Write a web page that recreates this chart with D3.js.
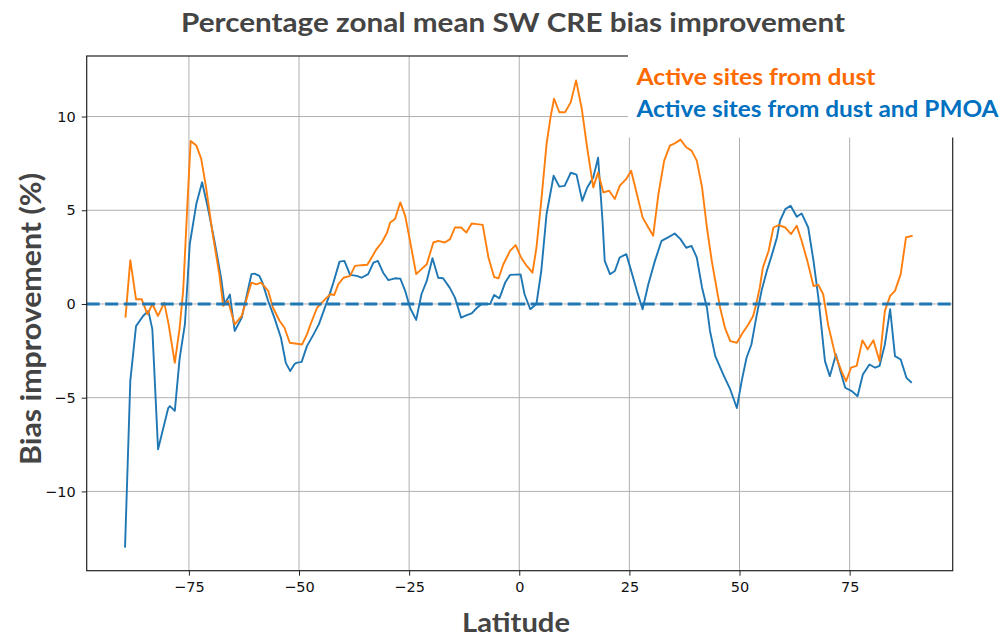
<!DOCTYPE html>
<html lang="en">
<head>
<meta charset="UTF-8">
<title>Percentage zonal mean SW CRE bias improvement</title>
<script src="https://d3js.org/d3.v7.min.js"></script>
<style>
  body { margin: 0; background: #fff; }
  svg { display: block; }
</style>
</head>
<body>
<svg id="chart" width="1004" height="640"></svg>
<script>
// latitude / value pairs
const dustLat = [-89.4,-88.3,-87.0,-85.7,-84.4,-83.3,-82.0,-80.6,-79.6,-78.2,-77.1,-76.3,-75.3,-74.6,-73.3,-72.2,-71.1,-69.6,-68.1,-67.2,-66.1,-64.6,-63.0,-61.5,-60.8,-59.7,-58.6,-57.0,-55.9,-54.4,-53.3,-52.1,-49.3,-48.2,-47.1,-45.9,-44.8,-43.7,-42.9,-42.0,-41.1,-39.9,-38.4,-37.3,-35.8,-34.5,-33.5,-32.4,-31.2,-30.0,-29.3,-28.2,-27.0,-25.9,-24.8,-23.4,-22.2,-21.0,-19.5,-18.4,-16.9,-15.7,-14.6,-13.2,-12.0,-10.8,-9.6,-8.3,-7.0,-5.7,-4.7,-3.6,-2.1,-0.8,0.4,1.7,3.0,3.9,5.0,6.2,7.1,7.9,9.1,10.4,11.7,12.9,14.2,15.4,16.8,17.9,19.1,20.4,21.7,22.8,24.3,25.4,26.7,28.0,29.3,30.4,31.6,32.9,34.2,35.3,36.6,37.9,39.1,40.3,41.5,42.6,43.7,44.9,45.6,46.7,47.9,49.4,50.7,52.0,53.1,53.8,54.6,55.3,56.6,57.7,58.9,60.4,61.7,63.0,64.1,65.4,66.8,67.9,69.0,70.1,71.7,73.3,74.2,75.3,76.6,77.9,79.1,80.4,81.8,83.0,84.2,85.3,86.6,87.8,89.3];
const dustVal = [-0.73,2.34,0.25,0.25,-0.55,0,-0.64,0.07,-1.09,-3.14,-1.27,0.7,5.5,8.7,8.45,7.74,6.22,3.73,1.59,-0.1,0.16,-1.09,-0.64,0.6,1.14,1.05,1.14,0.7,-0.2,-0.91,-1.27,-2.07,-2.16,-1.62,-0.91,-0.2,0.07,0.34,0.52,0.48,1.05,1.4,1.5,2.03,2.07,2.09,2.48,2.93,3.28,3.81,4.35,4.53,5.42,4.7,3.37,1.59,1.86,2.12,3.28,3.37,3.28,3.46,4.08,4.08,3.81,4.29,4.26,4.22,2.48,1.44,1.37,2.12,2.83,3.14,2.48,2.03,1.67,3.0,5.5,8.54,9.96,10.95,10.23,10.23,10.77,11.93,10.41,8.36,6.22,7.02,5.95,6.04,5.6,6.3,6.67,7.11,5.87,4.62,4.08,3.64,5.87,7.65,8.45,8.57,8.77,8.36,8.18,7.65,6.22,4.08,2.3,0.7,-0.2,-1.27,-1.98,-2.07,-1.55,-1.09,-0.64,0,0.87,1.94,2.83,4.08,4.21,4.08,3.73,4.17,3.37,2.3,0.96,1.02,0.52,-1.09,-2.69,-3.67,-4.12,-3.4,-3.3,-1.94,-2.42,-1.94,-3.05,-0.37,0.43,0.7,1.59,3.55,3.64];

const pmoaLat = [-89.5,-88.3,-87.0,-85.4,-84.2,-83.3,-82.0,-79.7,-79.3,-78.2,-77.1,-75.9,-74.8,-73.3,-72.0,-70.7,-69.2,-67.7,-66.9,-65.7,-64.6,-63.0,-60.8,-60.1,-59.0,-58.3,-57.0,-55.6,-54.1,-53.0,-52.0,-51.0,-50.6,-49.4,-48.2,-46.7,-45.5,-44.4,-43.3,-42.2,-40.8,-39.7,-38.4,-36.9,-35.8,-34.3,-33.1,-32.1,-30.9,-29.7,-28.2,-27.0,-25.9,-24.8,-23.4,-22.2,-21.0,-19.7,-18.4,-17.3,-15.8,-14.6,-13.2,-11.9,-10.8,-9.6,-8.5,-6.6,-5.7,-4.5,-3.2,-2.1,0.3,1.2,2.5,3.9,5.0,6.2,7.8,9.1,10.3,11.7,13.0,14.3,15.4,16.8,17.9,18.9,19.4,20.6,21.7,22.8,24.3,25.2,26.7,28.0,29.3,30.8,32.3,33.8,35.3,36.6,37.9,39.1,40.3,41.5,42.6,43.3,44.5,46.3,47.9,49.4,50.5,51.6,52.7,53.8,55.0,56.2,57.4,58.5,59.2,60.4,61.6,63.0,64.1,65.6,66.8,67.9,69.4,70.5,71.9,72.9,74.0,75.5,76.8,78.0,79.5,80.8,81.8,83.0,84.2,85.3,86.6,87.9,89.1];
const pmoaVal = [-13.0,-4.1,-1.18,-0.64,-0.37,-1.34,-7.75,-5.56,-5.45,-5.7,-2.9,-1.07,3.2,5.35,6.49,5.15,3.37,1.4,0.0,0.5,-1.44,-0.73,1.59,1.62,1.5,1.14,0.16,-0.73,-1.8,-3.14,-3.58,-3.2,-3.14,-3.09,-2.25,-1.62,-1.09,-0.37,0.34,1.14,2.26,2.3,1.55,1.5,1.4,1.59,2.21,2.3,1.67,1.27,1.37,1.35,0.7,-0.2,-0.85,0.52,1.23,2.44,1.4,1.37,0.87,0.34,-0.73,-0.6,-0.5,-0.2,0,0,0.48,0.3,1.14,1.55,1.58,0.52,-0.28,0,1.76,4.8,6.84,6.26,6.3,7.0,6.9,5.5,6.2,6.75,7.8,4.44,2.3,1.59,1.76,2.48,2.66,1.94,0.7,-0.28,1.05,2.3,3.37,3.55,3.76,3.46,3.0,3.1,2.48,0.87,-0.2,-1.44,-2.78,-3.76,-4.56,-5.55,-4.1,-2.87,-2.16,-0.73,0.7,1.76,2.66,3.55,4.44,5.06,5.24,4.65,4.83,4.08,2.3,0.34,-3.05,-3.85,-2.69,-3.58,-4.47,-4.65,-4.92,-3.76,-3.23,-3.4,-3.3,-2.16,-0.28,-2.78,-2.96,-3.94,-4.2];

const xTicks = [-75, -50, -25, 0, 25, 50, 75];
const yTicks = [-10, -5, 0, 5, 10];
const legendLabels = ["Active sites from dust", "Active sites from dust and PMOA"];

const svg = d3.select("#chart");
const fmt = d => d < 0 ? "\u2212" + Math.abs(d) : String(d);

const x = d3.scaleLinear().domain([-98.2, 98.4]).range([86.7, 952.7]);
const y = d3.scaleLinear().domain([-14.23, 13.23]).range([570.7, 56]);

// grid
const grid = svg.append("g").attr("stroke", "#b0b0b0").attr("stroke-width", 1);
grid.selectAll("line.gx").data(xTicks).join("line")
    .attr("x1", d => x(d)).attr("x2", d => x(d))
    .attr("y1", y.range()[1]).attr("y2", y.range()[0]);
grid.selectAll("line.gy").data(yTicks).join("line")
    .attr("y1", d => y(d)).attr("y2", d => y(d))
    .attr("x1", x.range()[0]).attr("x2", x.range()[1]);

// axes
const xAxis = svg.append("g")
    .attr("transform", `translate(0,${y.range()[0]})`)
    .call(d3.axisBottom(x).tickValues(xTicks).tickFormat(fmt).tickSize(5).tickPadding(6).tickSizeOuter(0));
const yAxis = svg.append("g")
    .attr("transform", `translate(${x.range()[0]},0)`)
    .call(d3.axisLeft(y).tickValues(yTicks).tickFormat(fmt).tickSize(5).tickPadding(6).tickSizeOuter(0));
[xAxis, yAxis].forEach(a => {
    a.select(".domain").remove();
    a.selectAll("text").attr("font-family", "DejaVu Sans").attr("font-size", 14.5).attr("fill", "#111");
    a.selectAll("line").attr("stroke", "#222");
});

// series
const line = d3.line().x(d => x(d[0])).y(d => y(d[1]));
const pmoa = pmoaLat.map((v, i) => [v, pmoaVal[i]]);
const dust = dustLat.map((v, i) => [v, dustVal[i]]);

svg.append("path").datum(pmoa).attr("d", line)
    .attr("fill", "none").attr("stroke", "#1f77b4").attr("stroke-width", 1.9).attr("stroke-linejoin", "round");
svg.append("path").datum(dust).attr("d", line)
    .attr("fill", "none").attr("stroke", "#ff7f0e").attr("stroke-width", 1.9).attr("stroke-linejoin", "round");

// zero line
svg.append("line")
    .attr("x1", x.range()[0]).attr("x2", x.range()[1])
    .attr("y1", y(0)).attr("y2", y(0))
    .attr("stroke", "#1f77b4").attr("stroke-width", 3.2).attr("stroke-dasharray", "13,5.5");

// frame
svg.append("rect")
    .attr("x", x.range()[0]).attr("y", y.range()[1])
    .attr("width", x.range()[1] - x.range()[0]).attr("height", y.range()[0] - y.range()[1])
    .attr("fill", "none").attr("stroke", "#222").attr("stroke-width", 1.2);

// legend panel pasted over the top-right corner
svg.append("rect").attr("x", 628).attr("y", 0).attr("width", 376).attr("height", 137.5).attr("fill", "#fff");
const legendColors = ["#ff6a00", "#0070c0"];
svg.selectAll("text.legend").data(legendLabels).join("text")
    .attr("class", "legend")
    .attr("x", 636.5)
    .attr("y", (d, i) => 85 + i * 32)
    .attr("font-family", "Lato").attr("font-weight", "bold").attr("font-size", 22)
    .attr("fill", (d, i) => legendColors[i])
    .attr("textLength", (d, i) => i === 0 ? 239 : 362)
    .attr("lengthAdjust", "spacingAndGlyphs")
    .text(d => d);

// titles
svg.append("text")
    .attr("x", 513).attr("y", 32).attr("text-anchor", "middle")
    .attr("font-family", "Lato").attr("font-weight", "bold").attr("font-size", 26)
    .attr("fill", "#444").attr("textLength", 664).attr("lengthAdjust", "spacingAndGlyphs")
    .text("Percentage zonal mean SW CRE bias improvement");

svg.append("text")
    .attr("transform", "translate(41,319) rotate(-90)").attr("text-anchor", "middle")
    .attr("font-family", "Lato").attr("font-weight", "bold").attr("font-size", 29)
    .attr("fill", "#444").attr("textLength", 292).attr("lengthAdjust", "spacingAndGlyphs")
    .text("Bias improvement (%)");

svg.append("text")
    .attr("x", 516).attr("y", 632).attr("text-anchor", "middle")
    .attr("font-family", "Lato").attr("font-weight", "bold").attr("font-size", 26)
    .attr("fill", "#444").attr("textLength", 108).attr("lengthAdjust", "spacingAndGlyphs")
    .text("Latitude");
</script>
</body>
</html>
